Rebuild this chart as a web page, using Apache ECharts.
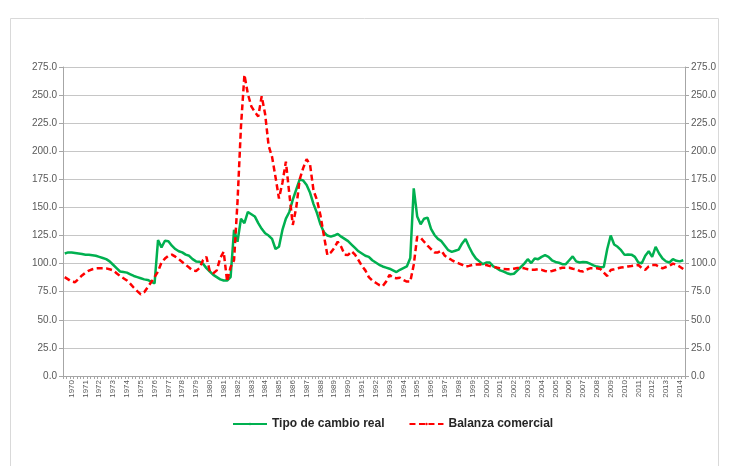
<!DOCTYPE html>
<html>
<head>
<meta charset="utf-8">
<script src="https://cdn.jsdelivr.net/npm/echarts@6/dist/echarts.min.js"></script>
<style>
html,body{margin:0;padding:0;background:#fff;}
#chart{width:730px;height:466px;}
</style>
</head>
<body>
<div id="chart"></div>
<script>
const startYear = 1970;
const endYear = 2014;
const seriesNames = ["Tipo de cambio real", "Balanza comercial"];
const yTicks = [0, 25, 50, 75, 100, 125, 150, 175, 200, 225, 250, 275];

// Quarterly values, 1970 T1 ... 2014 T4 (4 per row = 1 year)
const tipoCambioReal = [
  109, 110, 110, 109.5,
  109, 108.5, 108, 108,
  107.5, 107, 106, 105,
  104, 102, 99, 96,
  93, 92.5, 92, 90.5,
  89, 88, 87, 86,
  85.5, 84, 82.5, 121,
  114.5, 120.4, 120, 116,
  113, 111, 110, 108,
  107, 104, 102, 101.7,
  100, 96, 93, 90,
  88, 86, 85, 85,
  88, 130, 119.5, 140,
  136, 146, 144, 142,
  136, 131, 127, 125,
  122, 113, 115, 130,
  140, 146, 157, 166,
  175, 174, 170, 163,
  153, 145, 135, 128,
  125, 124, 125, 126.5,
  124, 122, 120, 117,
  114, 111, 109, 107,
  106, 103, 101, 99,
  97.5, 96.5, 95.5, 94,
  92.5, 94.5, 96, 97.5,
  105, 167, 142, 135,
  140, 141, 131, 125.5,
  122, 120, 116, 112,
  110.5, 111.5, 112.5, 118,
  122, 115, 109, 104.5,
  102, 99.5, 101, 101,
  97.5, 96, 94, 93,
  91.5, 90.5, 91, 94,
  97, 100, 104, 100.5,
  104.5, 104, 106, 107.5,
  106, 103, 101.5, 100.8,
  99.5, 99.5, 103, 106.5,
  102, 101, 101.5, 101.2,
  100, 98.5, 97.4, 96.8,
  97, 113, 125, 117,
  115, 112, 107.8, 108.2,
  108, 106, 101, 100.3,
  107, 111, 106, 115,
  109, 104.5, 102, 101,
  104, 102.5, 102, 103
];

const balanzaComercial = [
  88, 86, 84, 83.5,
  86.5, 89.5, 92, 93.8,
  95, 95.8, 96, 96,
  95.8, 95, 94, 91.5,
  89, 87, 85, 82,
  78.5, 75.5, 72.7, 74.5,
  79, 83.5, 88, 93,
  101, 104.5, 107, 108,
  106.2, 104, 101.5, 99,
  96.5, 94, 93.5, 96,
  103, 106, 93, 91.5,
  94, 105, 110.6, 84,
  97, 103, 155, 222,
  268, 251, 240, 235,
  231, 249, 233, 205,
  195, 177, 158, 172,
  190.7, 162, 134.4, 150,
  175, 185, 193, 188,
  165, 156.6, 143, 125,
  107.7, 110, 114, 119.5,
  115, 108, 107.7, 111,
  108, 103.2, 98, 94,
  88, 85, 83, 81,
  80, 84, 90, 87.5,
  87, 87.5, 85.5, 84,
  84, 99, 124, 123,
  119.5, 116, 113, 110,
  110, 111.5, 107, 105,
  103.2, 101.5, 100.3, 99,
  97.3, 98, 98.8, 99.2,
  99.4, 99, 98.8, 97.8,
  97.3, 96.5, 95.8, 95.3,
  95, 95, 95.5, 96.2,
  96.2, 95.8, 95, 94.5,
  94.5, 95, 94.5, 93.5,
  92.8, 93.5, 94.3, 95.5,
  96.4, 96.4, 96.4, 95.5,
  95, 93.5, 93, 94.8,
  95.8, 95.8, 95.8, 95.3,
  92, 89, 94.3, 95,
  95.8, 96.5, 97, 97.5,
  97.8, 98.3, 98.8, 96,
  94.5, 97.5, 98.8, 98.8,
  97.3, 95.8, 97, 98,
  100, 99, 97.3, 95.2
];

const categories = [];
for (let y = startYear; y <= endYear; y++) {
  for (let q = 1; q <= 4; q++) categories.push(y + "T" + q);
}

const axisColor = '#a6a6a6';
const textColor = '#595959';
const fontFamily = '"Liberation Sans", Arial, sans-serif';

function yAxisDef(pos) {
  return {
    type: 'value',
    position: pos,
    min: yTicks[0],
    max: yTicks[yTicks.length - 1],
    interval: 25,
    axisLine: { show: true, lineStyle: { color: axisColor, width: 1 } },
    axisTick: { show: true, length: 4, lineStyle: { color: axisColor } },
    axisLabel: {
      color: textColor, fontSize: 10, fontFamily: fontFamily, margin: 6,
      formatter: v => v.toFixed(1)
    },
    splitLine: { show: pos === 'left', lineStyle: { color: '#c6c6c6', width: 1 } }
  };
}

const chart = echarts.init(document.getElementById('chart'), null, { renderer: 'canvas' });
chart.setOption({
  animation: false,
  backgroundColor: '#ffffff',
  graphic: [{
    type: 'rect',
    shape: { x: 10.5, y: 18.5, width: 708, height: 460 },
    style: { fill: 'none', stroke: '#d9d9d9', lineWidth: 1 },
    silent: true
  }],
  grid: { left: 63, right: 45, top: 67, bottom: 90, containLabel: false },
  legend: {
    bottom: 31,
    left: 227,
    itemWidth: 34,
    itemHeight: 3,
    itemGap: 24,
    textStyle: { color: '#262626', fontSize: 12, fontWeight: 'bold', fontFamily: fontFamily },
    data: seriesNames
  },
  xAxis: {
    type: 'category',
    data: categories,
    boundaryGap: true,
    axisLine: { show: true, lineStyle: { color: axisColor, width: 1 } },
    axisTick: { show: true, interval: 0, length: 3, lineStyle: { color: axisColor } },
    axisLabel: {
      interval: (i) => i % 4 === 2,
      rotate: 90,
      color: textColor,
      fontSize: 8,
      fontFamily: fontFamily,
      margin: 4,
      formatter: v => v.slice(0, 4)
    },
    splitLine: { show: false }
  },
  yAxis: [yAxisDef('left'), yAxisDef('right')],
  series: [
    {
      name: seriesNames[0],
      type: 'line',
      data: tipoCambioReal,
      yAxisIndex: 0,
      symbol: 'none',
      lineStyle: { color: '#00b050', width: 2.5 },
      itemStyle: { color: '#00b050' },
      z: 3
    },
    {
      name: seriesNames[1],
      type: 'line',
      data: balanzaComercial,
      yAxisIndex: 1,
      symbol: 'none',
      lineStyle: { color: '#ff0000', width: 2.5, type: [6, 3.5] },
      itemStyle: { color: '#ff0000' },
      z: 4
    }
  ]
});
</script>
</body>
</html>
